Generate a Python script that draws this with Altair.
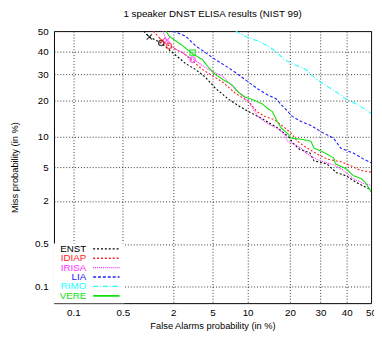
import altair as alt
import pandas as pd
from statistics import NormalDist

# ---------------- data (percent) ----------------
names = ["ENST", "IDIAP", "IRISA", "LIA", "RIMO", "VERE"]
colors = ["#000000", "#ff2020", "#ff30ff", "#2020ff", "#20ffff", "#10e010"]
dashes = [[2, 2], [2, 2], [1, 1], [3, 2], [5, 2, 1, 2], [1, 0]]
widths = [1.1, 1.1, 1.1, 1.3, 1.1, 1.6]

enst_fa = [0.92, 0.98, 1.07, 1.47, 1.97, 2.72, 3.43, 4.29, 5.30, 6.9, 8.7, 10.2, 12.9, 16.8, 19.7,
           20.9, 22.8, 26.3, 27.7, 32.3, 36.0, 39.7, 43.9, 47.9, 50.0]
enst_miss = [50.0, 48.6, 47.2, 44.3, 39.7, 34.7, 32.1, 28.8, 24.5, 20.6, 18.0, 16.5, 14.5, 11.96, 9.96,
             8.76, 7.68, 7.02, 5.82, 5.42, 4.34, 4.02, 3.36, 2.93, 2.78]

idiap_fa = [1.19, 1.51, 1.80, 2.54, 4.01, 6.2, 7.9, 10.2, 11.8, 13.5, 15.8, 18.4, 20.4, 22.2, 25.3,
            28.7, 32.3, 37.6, 41.5, 45.6, 50.0]
idiap_miss = [50.0, 45.3, 42.9, 39.7, 32.1, 26.8, 22.7, 19.7, 16.5, 15.1, 14.2, 12.2, 10.8, 9.15, 7.85,
              6.86, 6.11, 5.7, 5.2, 4.6, 4.4]

irisa_fa = [1.54, 1.67, 1.80, 2.30, 3.28, 4.58, 6.2, 7.9, 10.2, 12.0, 14.2, 16.5, 18.4, 19.3, 21.3,
            23.4, 25.3, 27.7, 30.1, 32.3, 34.9, 38.7, 42.7, 46.8, 50.0]
irisa_miss = [50.0, 45.7, 43.4, 40.6, 36.5, 32.1, 29.2, 24.2, 19.7, 15.1, 13.1, 12.0, 10.6, 9.15, 8.58,
              7.85, 6.86, 6.25, 5.82, 5.55, 5.3, 4.6, 3.72, 3.27, 3.1]

lia_fa = [1.99, 2.72, 3.43, 4.29, 5.30, 6.9, 8.4, 10.2, 12.0, 14.2, 16.3, 17.6, 18.9, 20.7, 23.4,
          26.6, 30.1, 34.9, 37.6, 42.7, 46.8, 50.0]
lia_miss = [50.0, 47.6, 42.9, 39.7, 36.5, 33.0, 30.0, 26.8, 24.2, 22.0, 20.6, 18.6, 17.1, 15.1, 13.7,
            12.7, 11.2, 9.75, 7.85, 7.0, 6.11, 5.55]

rimo_fa = [8.0, 10.2, 12.0, 14.2, 16.5, 18.4, 21.3, 24.9, 26.6, 30.1, 33.0, 36.0, 39.7, 43.9, 47.9, 50.0]
rimo_miss = [50.0, 46.7, 45.3, 42.9, 39.7, 36.5, 34.3, 32.1, 30.0, 26.8, 24.9, 23.0, 20.6, 18.9, 17.1, 15.9]

vere_fa = [1.67, 1.80, 2.54, 3.20, 4.01, 4.58, 5.30, 6.2, 7.5, 8.4, 9.53, 10.6, 12.9, 14.2, 15.3, 16.5,
           17.6, 19.3, 20.4, 23.4, 26.6, 27.7, 30.1, 32.3, 34.9, 35.6, 39.7, 42.7, 46.0, 47.9, 50.0]
vere_miss = [50.0, 47.6, 42.9, 39.2, 36.5, 33.0, 30.0, 27.9, 25.7, 23.0, 21.3, 20.6, 19.0, 17.4, 16.5, 13.7,
             12.0, 10.8, 9.75, 9.55, 9.15, 7.85, 7.35, 6.86, 6.25, 5.42, 4.80, 4.02, 3.72, 3.27, 2.6]

# operating-point markers
mk_sys = ["ENST", "ENST", "IDIAP", "IDIAP", "IRISA", "IRISA", "VERE"]
mk_fa = [1.07, 1.47, 1.51, 1.80, 1.72, 3.20, 3.20]
mk_miss = [47.2, 44.3, 45.3, 42.9, 45.7, 36.5, 39.7]
mk_kind = ["x", "circle", "x", "circle", "x", "circle", "square"]

tick_pct = [0.1, 0.5, 2, 5, 10, 20, 30, 40, 50]
tick_lab = ["0.1", "0.5", "2", "5", "10", "20", "30", "40", "50"]
axis_min_pct = 0.05
axis_max_pct = 50

# ---------------- build tables ----------------
nd = NormalDist()


def probit(pct):
    return nd.inv_cdf(min(max(pct, 0.001), 99.999) / 100.0)


series = {
    "ENST": (enst_fa, enst_miss), "IDIAP": (idiap_fa, idiap_miss), "IRISA": (irisa_fa, irisa_miss),
    "LIA": (lia_fa, lia_miss), "RIMO": (rimo_fa, rimo_miss), "VERE": (vere_fa, vere_miss),
}
rows = []
for s, (fa, ms) in series.items():
    for i, (a, b) in enumerate(zip(fa, ms)):
        rows.append({"sys": s, "i": i, "x": probit(a), "y": probit(b)})
df = pd.DataFrame(rows)

mk = pd.DataFrame({"sys": mk_sys, "x": [probit(v) for v in mk_fa],
                   "y": [probit(v) for v in mk_miss], "kind": mk_kind})

tick_vals = [probit(v) for v in tick_pct]


def label_expr(vals, labs):
    expr = f"'{labs[-1]}'"
    for k in range(len(vals) - 2, -1, -1):
        mid = (vals[k] + vals[k + 1]) / 2
        expr = f"datum.value < {mid:.4f} ? '{labs[k]}' : (" + expr + ")"
    return expr


lexpr = label_expr(tick_vals, tick_lab)
dom = [probit(axis_min_pct), probit(axis_max_pct)]

W, H = 324, 278
FONT = "Liberation Sans"

xaxis = alt.Axis(values=tick_vals, labelExpr=lexpr, grid=True, gridDash=[1, 2], gridColor="#333",
                 gridWidth=1, ticks=False, domain=False, labelFontSize=10, labelPadding=5,
                 labelFont=FONT, labelColor="#000", title="False Alarms probability (in %)",
                 titleFont=FONT, titleFontSize=9.5, titleFontWeight="normal", titleColor="#000",
                 titleY=23, titleBaseline="middle", labelFlush=False, labelOverlap=False,
                 labelBound=False)
yaxis = alt.Axis(values=tick_vals, labelExpr=lexpr, grid=True, gridDash=[1, 2], gridColor="#333",
                 gridWidth=1, ticks=False, domain=False, labelFontSize=10, labelPadding=6,
                 labelFont=FONT, labelColor="#000", title="Miss probability (in %)",
                 titleFont=FONT, titleFontSize=9.5, titleFontWeight="normal", titleColor="#000",
                 titleX=-40, titleY=H / 2, titleAngle=-90, titleBaseline="middle",
                 labelFlush=False, labelOverlap=False, labelBound=False)

xs = alt.Scale(domain=dom, nice=False, zero=False)
ys = alt.Scale(domain=dom, nice=False, zero=False)

lines = alt.Chart(df).mark_line(clip=True).encode(
    x=alt.X("x:Q", scale=xs, axis=xaxis),
    y=alt.Y("y:Q", scale=ys, axis=yaxis),
    color=alt.Color("sys:N", scale=alt.Scale(domain=names, range=colors), legend=None),
    strokeDash=alt.StrokeDash("sys:N", scale=alt.Scale(domain=names, range=dashes), legend=None),
    strokeWidth=alt.StrokeWidth("sys:N", scale=alt.Scale(domain=names, range=widths), legend=None),
    order="i:Q",
)

xshape = "M-1,-1L1,1M-1,1L1,-1"
points = alt.Chart(mk).mark_point(filled=False, strokeWidth=1.3, clip=True).encode(
    x=alt.X("x:Q", scale=xs, axis=xaxis),
    y=alt.Y("y:Q", scale=ys, axis=yaxis),
    color=alt.Color("sys:N", scale=alt.Scale(domain=names, range=colors), legend=None),
    shape=alt.Shape("kind:N", scale=alt.Scale(domain=["x", "circle", "square"],
                                              range=[xshape, "circle", "square"]), legend=None),
    size=alt.value(30),
)

# manual legend (inside plot, bottom-left)
leg_bg = alt.Chart(pd.DataFrame({"a": [0]})).mark_rect(color="white").encode(
    x=alt.value(0), x2=alt.value(72), y=alt.value(217), y2=alt.value(H))
layers = [lines, points, leg_bg]
y0, dy = 222.5, 9.6
for k, n in enumerate(names):
    yy = y0 + k * dy
    d = pd.DataFrame({"sys": [n]})
    layers.append(alt.Chart(d).mark_text(align="right", baseline="middle", fontSize=10, font=FONT,
                                         color=colors[k]).encode(
        x=alt.value(33), y=alt.value(yy), text="sys:N"))
    layers.append(alt.Chart(d).mark_rule(color=colors[k], strokeDash=dashes[k],
                                         strokeWidth=widths[k] + 0.3).encode(
        x=alt.value(40), x2=alt.value(67), y=alt.value(yy)))

chart = alt.layer(*layers).properties(
    width=W, height=H,
    title=alt.TitleParams("1 speaker DNST ELISA results (NIST 99)", fontSize=10, font=FONT,
                          fontWeight="normal", color="#000", anchor="middle", offset=7),
    autosize=alt.AutoSizeParams(type="none"),
    padding={"left": 47, "top": 20, "right": 3, "bottom": 31},
).configure_view(stroke="#000", strokeWidth=1)

chart.save("out.html", embed_options={"renderer": "svg", "actions": False})
